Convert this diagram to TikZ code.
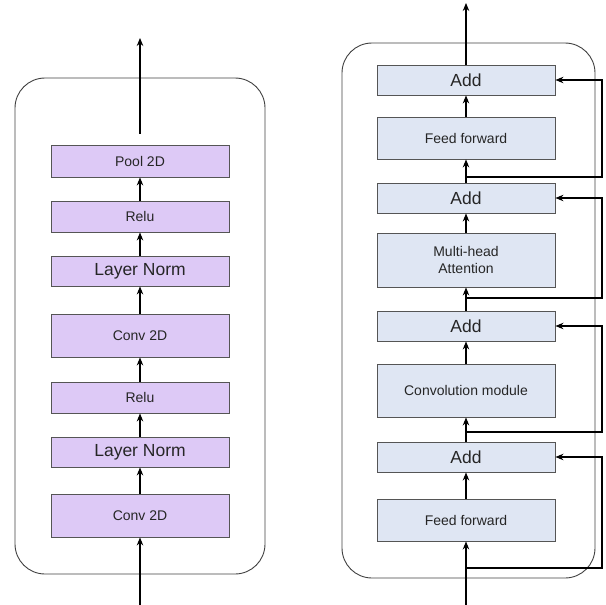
\documentclass[tikz,border=0pt]{standalone}
\usepackage{fontspec}
\setmainfont{Liberation Sans}
\usepackage{tikz}
\usetikzlibrary{arrows.meta}
\definecolor{convfill}{HTML}{DDC9F6}
\definecolor{tffill}{HTML}{DFE6F3}
\definecolor{edge}{HTML}{555555}
\tikzstyle{box}=[draw=edge, line width=0.9pt, minimum width=178pt, inner sep=0pt, align=center, text=black!85, font=\fontsize{14}{17}\selectfont]
\tikzstyle{cbox}=[box, fill=convfill]
\tikzstyle{tbox}=[box, fill=tffill]
\tikzstyle{big}=[font=\fontsize{17.5}{20}\selectfont]
\tikzstyle{up}=[-{Stealth[length=8pt,width=6.5pt]}, line width=1.1pt]
\tikzstyle{frame}=[draw=black!75, line width=0.9pt, rounded corners=30pt]
\newcommand{\cx}{140}
\newcommand{\tx}{466}
\newcommand{\skipx}{602}

\begin{document}
\begin{tikzpicture}[x=1pt,y=-1pt]
\useasboundingbox (0,0) rectangle (605,605);
\draw[frame] (15,78) rectangle (265,574);
\node[cbox, minimum height=32pt] (p) at (\cx,161) {Pool 2D};
\node[cbox, minimum height=31pt] (r2) at (\cx,216.5) {Relu};
\node[cbox, big, minimum height=30pt] (n2) at (\cx,271) {Layer Norm};
\node[cbox, minimum height=43pt] (c2) at (\cx,335.5) {Conv 2D};
\node[cbox, minimum height=31pt] (r1) at (\cx,397.5) {Relu};
\node[cbox, big, minimum height=30pt] (n1) at (\cx,452) {Layer Norm};
\node[cbox, minimum height=43pt] (c1) at (\cx,515.5) {Conv 2D};
\coordinate (i1) at (\cx,605);
\coordinate (o1) at (\cx,38);
\draw[up] (i1) -- (c1);
\draw[up] (c1) -- (n1);
\draw[up] (n1) -- (r1);
\draw[up] (r1) -- (c2);
\draw[up] (c2) -- (n2);
\draw[up] (n2) -- (r2);
\draw[up] (r2) -- (p);
\draw[up, shorten <=11pt] (p) -- (o1);

\draw[frame] (342,43) rectangle (595,578);
\node[tbox, big, minimum height=30pt] (a1) at (\tx,80) {Add};
\node[tbox, minimum height=42pt] (f1) at (\tx,138) {Feed forward};
\node[tbox, big, minimum height=30pt] (a2) at (\tx,198) {Add};
\node[tbox, minimum height=54pt] (mh) at (\tx,260) {Multi-head\\Attention};
\node[tbox, big, minimum height=30pt] (a3) at (\tx,326) {Add};
\node[tbox, minimum height=53pt] (cm) at (\tx,390.5) {Convolution module};
\node[tbox, big, minimum height=30pt] (a4) at (\tx,457) {Add};
\node[tbox, minimum height=42pt] (f2) at (\tx,520) {Feed forward};
\coordinate (i2) at (\tx,605);
\coordinate (o2) at (\tx,3);
\coordinate (k) at (\skipx,0);
\coordinate (b1) at (\tx,568);
\coordinate (b2) at (\tx,432);
\coordinate (b3) at (\tx,298);
\coordinate (b4) at (\tx,177);
\draw[up] (i2) -- (f2);
\draw[up] (f2) -- (a4);
\draw[up] (a4) -- (cm);
\draw[up] (cm) -- (a3);
\draw[up] (a3) -- (mh);
\draw[up] (mh) -- (a2);
\draw[up] (a2) -- (f1);
\draw[up] (f1) -- (a1);
\draw[up] (a1) -- (o2);
\draw[up] (b1) -- (b1-|k) |- (a4);
\draw[up] (b2) -- (b2-|k) |- (a3);
\draw[up] (b3) -- (b3-|k) |- (a2);
\draw[up] (b4) -- (b4-|k) |- (a1);
\end{tikzpicture}
\end{document}
